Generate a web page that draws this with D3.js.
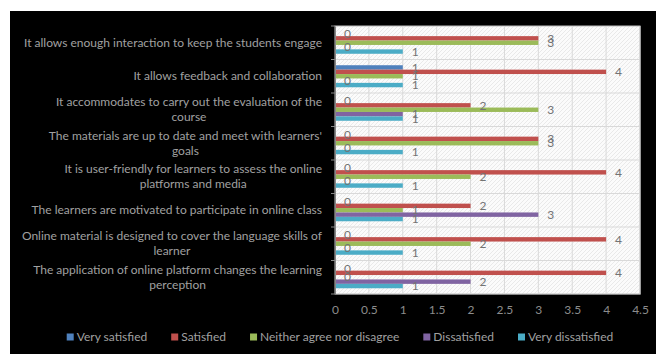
<!DOCTYPE html>
<html>
<head>
<meta charset="utf-8">
<script src="https://cdn.jsdelivr.net/npm/d3@7"></script>
<style>
  html, body { margin: 0; padding: 0; background: #fff; }
  svg { display: block; font-family: Lato, "Open Sans", sans-serif; }
</style>
</head>
<body>
<div id="chart"></div>
<script>
// chart size
let w = 656;
let h = 354;

// categories, top to bottom (lines split where the original wraps)
const categories = [
  "It allows enough interaction to keep the students engage",
  "It allows feedback and collaboration",
  "It accommodates to carry out the evaluation of the\ncourse",
  "The materials are up to date and meet with learners'\ngoals",
  "It is user-friendly for learners to assess the online\nplatforms and media",
  "The learners are motivated to participate in online class",
  "Online material is designed to cover the language skills of\nlearner",
  "The application of online platform changes the learning\nperception"
];

const seriesNames = ["Very satisfied", "Satisfied", "Neither agree nor disagree", "Dissatisfied", "Very dissatisfied"];
const seriesColors = ["#4f81bd", "#c0504d", "#9bbb59", "#8064a2", "#4bacc6"];

// values per series, same order as categories
const verySatisfied    = [0, 1, 0, 0, 0, 0, 0, 0];
const satisfied        = [3, 4, 2, 3, 4, 2, 4, 4];
const neither          = [3, 1, 3, 3, 2, 1, 2, 0];
const dissatisfied     = [0, 0, 1, 0, 0, 3, 0, 2];
const veryDissatisfied = [1, 1, 1, 1, 1, 1, 1, 1];

const xTicks = [0, 0.5, 1, 1.5, 2, 2.5, 3, 3.5, 4, 4.5];

const seriesValues = [verySatisfied, satisfied, neither, dissatisfied, veryDissatisfied];

// plot area
const plot = { left: 335, right: 640, top: 26, bottom: 294 };

const svg = d3.select("#chart")
  .append("svg")
  .attr("width", w)
  .attr("height", h);

// black slide background
svg.append("rect")
  .attr("x", 10).attr("y", 11)
  .attr("width", w - 10).attr("height", h - 11)
  .attr("fill", "#000");

// hatch pattern for the plot area
const defs = svg.append("defs");
const pat = defs.append("pattern")
  .attr("id", "hatch")
  .attr("patternUnits", "userSpaceOnUse")
  .attr("width", 4).attr("height", 4);
pat.append("rect").attr("width", 4).attr("height", 4).attr("fill", "#fbfbfb");
pat.append("path")
  .attr("d", "M-1,1 l2,-2 M0,4 l4,-4 M3,5 l2,-2")
  .attr("stroke", "#e4e4e4")
  .attr("stroke-width", 0.8);

svg.append("rect")
  .attr("x", plot.left).attr("y", plot.top)
  .attr("width", plot.right - plot.left).attr("height", plot.bottom - plot.top)
  .attr("fill", "url(#hatch)")
  .attr("stroke", "#bfbfbf");

// scales
const xScale = d3.scaleLinear().domain([0, 4.5]).range([plot.left, plot.right]);
const yScale = d3.scaleBand().domain(categories).range([plot.top, plot.bottom]);
const inner = d3.scaleBand().domain(seriesNames).range([0, yScale.bandwidth()]).paddingOuter(1.3);

// gridlines
svg.append("g")
  .selectAll("line")
  .data(xTicks.slice(1))
  .enter()
  .append("line")
  .attr("x1", d => xScale(d)).attr("x2", d => xScale(d))
  .attr("y1", plot.top).attr("y2", plot.bottom)
  .attr("stroke", "#d9d9d9");

svg.append("g")
  .selectAll("line")
  .data(categories.slice(1))
  .enter()
  .append("line")
  .attr("x1", plot.left).attr("x2", plot.right)
  .attr("y1", d => yScale(d)).attr("y2", d => yScale(d))
  .attr("stroke", "#d9d9d9");

// bars
const rows = [];
categories.forEach((c, i) => {
  seriesNames.forEach((s, j) => {
    rows.push({ cat: c, series: s, color: seriesColors[j], value: seriesValues[j][i] });
  });
});

svg.append("g")
  .selectAll("rect")
  .data(rows)
  .enter()
  .append("rect")
  .attr("x", xScale(0))
  .attr("y", d => yScale(d.cat) + inner(d.series))
  .attr("width", d => xScale(d.value) - xScale(0))
  .attr("height", inner.bandwidth())
  .attr("fill", d => d.color);

// data labels (they overlap in the original too)
svg.append("g")
  .selectAll("text")
  .data(rows)
  .enter()
  .append("text")
  .attr("x", d => xScale(d.value) + 9)
  .attr("y", d => yScale(d.cat) + inner(d.series) + inner.bandwidth() / 2)
  .attr("dy", "0.35em")
  .attr("font-size", 12)
  .attr("fill", "#737373")
  .text(d => d.value);

// axes
const xAxis = d3.axisBottom(xScale).tickValues(xTicks).tickSize(0).tickPadding(11).tickFormat(d3.format("~g"));
const gx = svg.append("g")
  .attr("transform", "translate(0," + plot.bottom + ")")
  .call(xAxis);
gx.select(".domain").attr("stroke", "#868686");
gx.selectAll("text").attr("fill", "#8c8c8c").attr("font-size", 12).attr("font-family", "Lato, sans-serif");

const yAxis = d3.axisLeft(yScale).tickValues([]).tickSizeOuter(0);
const gy = svg.append("g")
  .attr("transform", "translate(" + plot.left + ",0)")
  .call(yAxis);
gy.select(".domain").attr("stroke", "#868686");
gy.selectAll("line.bound")
  .data(categories.concat(["end"]))
  .enter()
  .append("line")
  .attr("class", "bound")
  .attr("x1", -4).attr("x2", 0)
  .attr("y1", d => d === "end" ? plot.bottom : yScale(d))
  .attr("y2", d => d === "end" ? plot.bottom : yScale(d))
  .attr("stroke", "#868686");

// category labels: block right-aligned, lines centred within the block
const labelRight = 322;
const lineH = 15;
categories.forEach(c => {
  const lines = c.split("\n");
  const t = svg.append("text")
    .attr("font-size", 12)
    .attr("fill", "#a0a0a0")
    .attr("text-anchor", "middle");
  const cy = yScale(c) + yScale.bandwidth() / 2;
  const spans = lines.map((l, k) => t.append("tspan")
    .attr("y", cy + (k - (lines.length - 1) / 2) * lineH)
    .attr("dy", "0.35em")
    .text(l));
  const maxW = d3.max(spans, s => s.node().getComputedTextLength());
  spans.forEach(s => s.attr("x", labelRight - maxW / 2));
});

// legend
const legend = svg.append("g");
const legendGap = 24;
let lx = 0;
seriesNames.forEach((s, i) => {
  const g = legend.append("g").attr("transform", "translate(" + lx + ",0)");
  g.append("rect")
    .attr("x", 0).attr("y", -3.5)
    .attr("width", 7).attr("height", 7)
    .attr("fill", seriesColors[i]);
  const t = g.append("text")
    .attr("x", 10)
    .attr("dy", "0.35em")
    .attr("font-size", 12)
    .attr("fill", "#a0a0a0")
    .text(s);
  lx += 10 + t.node().getComputedTextLength() + legendGap;
});
const legendW = lx - legendGap;
legend.attr("transform", "translate(" + (340 - legendW / 2) + ",337)");
</script>
</body>
</html>
